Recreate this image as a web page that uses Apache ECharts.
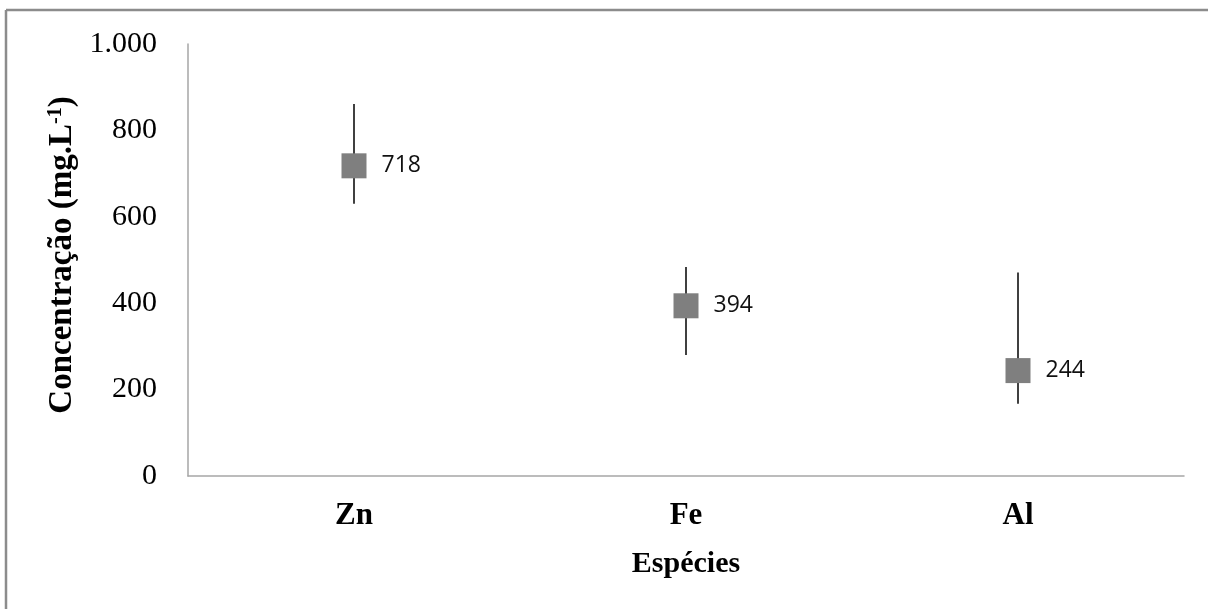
<!DOCTYPE html>
<html>
<head>
<meta charset="utf-8">
<script src="https://cdn.jsdelivr.net/npm/echarts@6/dist/echarts.min.js"></script>
<style>
html,body{margin:0;padding:0;background:#fff;overflow:hidden;}
#chart{width:1208px;height:609px;}
</style>
</head>
<body>
<div id="chart"></div>
<script>
const categories = ['Zn', 'Fe', 'Al'];
const means = [718, 394, 244];
const upper = [861, 484, 471];
const lower = [630, 280, 167];
const yTickLabels = ['0', '200', '400', '600', '800', '1.000'];

const chart = echarts.init(document.getElementById('chart'));
const errData = categories.map((c, i) => [i, lower[i], upper[i]]);

chart.setOption({
  animation: false,
  backgroundColor: '#fff',
  graphic: [
    { type: 'line', shape: { x1: 6, y1: 10, x2: 1208, y2: 10 }, style: { stroke: '#8c8c8c', lineWidth: 2.5 }, z: -1 },
    { type: 'line', shape: { x1: 6, y1: 10, x2: 6, y2: 609 }, style: { stroke: '#8c8c8c', lineWidth: 2.5 }, z: -1 }
  ],
  grid: { left: 188, right: 24, top: 44, bottom: 133 },
  xAxis: {
    type: 'category',
    data: categories,
    axisLine: { lineStyle: { color: '#a6a6a6', width: 1.5 } },
    axisTick: { show: false },
    axisLabel: { fontFamily: 'Liberation Serif', fontWeight: 'bold', fontSize: 31, color: '#000', margin: 24 },
    name: 'Espécies',
    nameLocation: 'middle',
    nameGap: 73,
    nameTextStyle: { fontFamily: 'Liberation Serif', fontWeight: 'bold', fontSize: 30, color: '#000' }
  },
  yAxis: {
    type: 'value',
    min: 0, max: 1000, interval: 200,
    axisLine: { show: true, lineStyle: { color: '#a6a6a6', width: 1.5 } },
    axisTick: { show: false },
    splitLine: { show: false },
    axisLabel: {
      fontFamily: 'Liberation Serif', fontSize: 30, color: '#000', margin: 31,
      formatter: v => yTickLabels[Math.round(v / 200)]
    },
    name: '{a|Concentração (mg.L}{b|-1}{a|)}',
    nameLocation: 'middle',
    nameRotate: 90,
    nameGap: 96,
    nameTextStyle: {
      padding: [0, 0, 0, 10],
      rich: {
        a: { fontFamily: 'Liberation Serif', fontWeight: 'bold', fontSize: 33, color: '#000' },
        b: { fontFamily: 'Liberation Serif', fontWeight: 'bold', fontSize: 20, color: '#000', verticalAlign: 'top', padding: [0, 0, 12, 0] }
      }
    }
  },
  series: [
    {
      type: 'custom',
      data: errData,
      z: 1,
      renderItem: function (params, api) {
        const x = api.coord([api.value(0), api.value(1)]);
        const y = api.coord([api.value(0), api.value(2)]);
        return {
          type: 'line',
          shape: { x1: x[0], y1: x[1], x2: y[0], y2: y[1] },
          style: { stroke: '#000', lineWidth: 1.5 }
        };
      }
    },
    {
      type: 'scatter',
      data: means,
      z: 2,
      symbol: 'rect',
      symbolSize: 25,
      itemStyle: { color: '#7f7f7f', opacity: 1 },
      emphasis: { disabled: true },
      label: {
        show: true, position: 'right', distance: 15,
        fontFamily: 'Open Sans', fontSize: 23, color: '#111'
      }
    }
  ]
});
</script>
</body>
</html>
